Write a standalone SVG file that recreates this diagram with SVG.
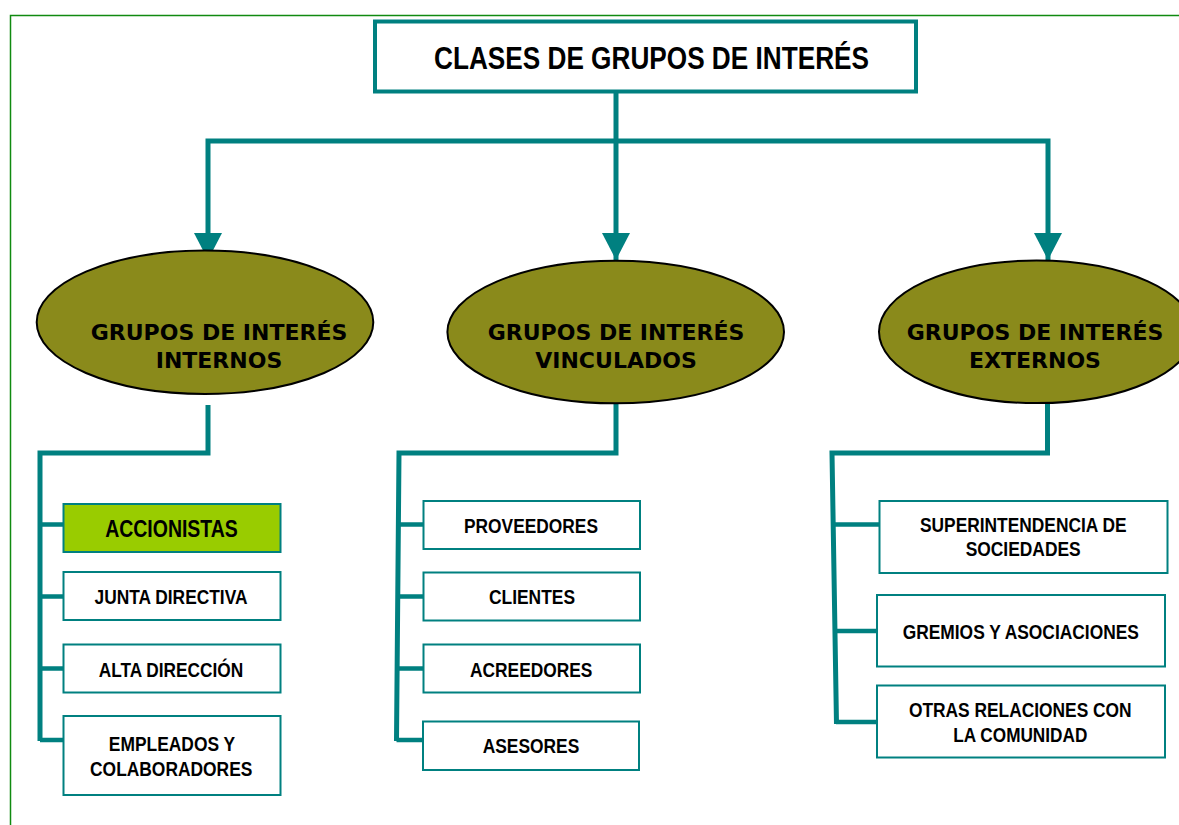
<svg xmlns="http://www.w3.org/2000/svg" width="1179" height="825" viewBox="0 0 1179 825">
<style>
.frame{fill:none;stroke:#108a10;stroke-width:1.5}
.conn{fill:none;stroke:#008080;stroke-width:5}
.br{fill:none;stroke:#008080;stroke-width:4.5}
.box{fill:#ffffff;stroke:#008080;stroke-width:2}
.hl{fill:#99cc00}
.ell{fill:#8a8a1b;stroke:#000000;stroke-width:2}
.lbl{font-family:"Liberation Sans Narrow","Liberation Sans",Arial,sans-serif;font-weight:bold;font-size:20.5px;fill:#000000;text-anchor:middle}
.big{font-size:23px}
.ttl{font-size:31.5px}
.etx{font-family:"DejaVu Sans",Verdana,sans-serif;font-weight:bold;font-size:22px;fill:#000000;text-anchor:middle}
</style>
<defs>
<marker id="arr" viewBox="0 0 27 28" refX="27" refY="14" markerWidth="27" markerHeight="28" markerUnits="userSpaceOnUse" orient="auto">
<path d="M0,0 L27,14 L0,28 z" fill="#008080"/>
</marker>
</defs>
<rect class="frame" x="10.5" y="15.5" width="1200" height="900"/>
<g id="connectors">
<path class="conn" d="M616,92 V141"/>
<path class="conn" d="M616,141 H208 V260" marker-end="url(#arr)"/>
<path class="conn" d="M616,141 V260" marker-end="url(#arr)"/>
<path class="conn" d="M616,141 H1048 V260" marker-end="url(#arr)"/>
<path class="conn" d="M208,405 V453 H40 V741"/>
<path class="br" d="M40,524.5 H64 M40,596.5 H64 M40,668.5 H64 M40,740 H64"/>
<path class="conn" d="M616,403 V453 H399 L396.5,741"/>
<path class="br" d="M398.5,524.5 H423 M398,596.5 H423 M397.5,668.5 H423 M396.5,740 H423"/>
<path class="conn" d="M1047.5,402 V453 H832 L836.5,724"/>
<path class="br" d="M832.5,524.5 H879 M834.5,631 H883 M836,722 H883"/>
</g>
<g id="title">
<rect class="box" x="375" y="21.5" width="541" height="70" style="stroke-width:4"/>
<text class="lbl ttl" x="651.5" y="69" textLength="435" lengthAdjust="spacingAndGlyphs">CLASES DE GRUPOS DE INTERÉS</text>
</g>
<g id="internos">
<ellipse class="ell" cx="205" cy="322.3" rx="168.3" ry="71.7"/>
<text class="etx" x="219" y="339.5">GRUPOS DE INTERÉS</text>
<text class="etx" x="219" y="368">INTERNOS</text>
</g>
<g id="vinculados">
<ellipse class="ell" cx="615.7" cy="332" rx="168.3" ry="71.3"/>
<text class="etx" x="616" y="339.5">GRUPOS DE INTERÉS</text>
<text class="etx" x="616" y="368.3">VINCULADOS</text>
</g>
<g id="externos">
<ellipse class="ell" cx="1036.5" cy="331.8" rx="157.5" ry="71.3"/>
<text class="etx" x="1035" y="339.5">GRUPOS DE INTERÉS</text>
<text class="etx" x="1035" y="368.3">EXTERNOS</text>
</g>
<g id="accionistas">
<rect class="box hl" x="63.5" y="504" width="217" height="48"/>
<text class="lbl big" x="171.5" y="536.5" textLength="132.7" lengthAdjust="spacingAndGlyphs">ACCIONISTAS</text>
</g>
<g id="junta">
<rect class="box" x="63.5" y="572" width="217" height="48"/>
<text class="lbl" x="171" y="604" textLength="153" lengthAdjust="spacingAndGlyphs">JUNTA DIRECTIVA</text>
</g>
<g id="alta">
<rect class="box" x="63.5" y="644.5" width="217" height="48"/>
<text class="lbl" x="171" y="676.5" textLength="144.6" lengthAdjust="spacingAndGlyphs">ALTA DIRECCIÓN</text>
</g>
<g id="empleados">
<rect class="box" x="63.5" y="716" width="217" height="79"/>
<text class="lbl" x="172" y="750.5" textLength="126.3" lengthAdjust="spacingAndGlyphs">EMPLEADOS Y</text>
<text class="lbl" x="171.2" y="775.5" textLength="162.3" lengthAdjust="spacingAndGlyphs">COLABORADORES</text>
</g>
<g id="proveedores">
<rect class="box" x="423.5" y="501" width="216.5" height="48"/>
<text class="lbl" x="531" y="533.3" textLength="134" lengthAdjust="spacingAndGlyphs">PROVEEDORES</text>
</g>
<g id="clientes">
<rect class="box" x="423.5" y="572.5" width="216.5" height="48"/>
<text class="lbl" x="532" y="604" textLength="86" lengthAdjust="spacingAndGlyphs">CLIENTES</text>
</g>
<g id="acreedores">
<rect class="box" x="423.5" y="644.5" width="216.5" height="48"/>
<text class="lbl" x="531.2" y="676.7" textLength="122.3" lengthAdjust="spacingAndGlyphs">ACREEDORES</text>
</g>
<g id="asesores">
<rect class="box" x="423" y="721.5" width="216" height="48.5"/>
<text class="lbl" x="531" y="753.3" textLength="96.6" lengthAdjust="spacingAndGlyphs">ASESORES</text>
</g>
<g id="superintendencia">
<rect class="box" x="879.5" y="501" width="288" height="72"/>
<text class="lbl" x="1023.3" y="531.7" textLength="206.7" lengthAdjust="spacingAndGlyphs">SUPERINTENDENCIA DE</text>
<text class="lbl" x="1023.2" y="556" textLength="115" lengthAdjust="spacingAndGlyphs">SOCIEDADES</text>
</g>
<g id="gremios">
<rect class="box" x="877" y="595" width="288" height="71.5"/>
<text class="lbl" x="1020.8" y="639" textLength="236.3" lengthAdjust="spacingAndGlyphs">GREMIOS Y ASOCIACIONES</text>
</g>
<g id="otras">
<rect class="box" x="877" y="685.5" width="288" height="72"/>
<text class="lbl" x="1020.3" y="716.7" textLength="222.7" lengthAdjust="spacingAndGlyphs">OTRAS RELACIONES CON</text>
<text class="lbl" x="1020.3" y="741.7" textLength="134" lengthAdjust="spacingAndGlyphs">LA COMUNIDAD</text>
</g>
</svg>
